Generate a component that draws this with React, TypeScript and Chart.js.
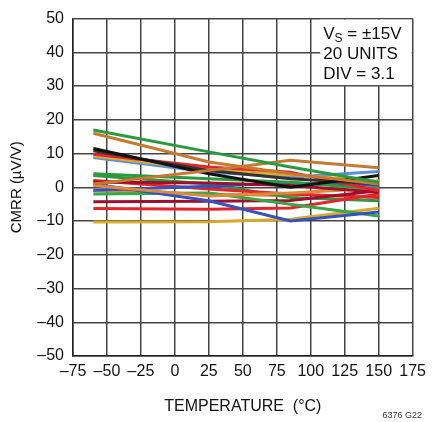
import React, { useEffect, useRef } from "react";
import { Chart, registerables } from "chart.js";

Chart.register(...registerables);

const temps = [-60, 25, 85, 150];

const seriesColors = [
  "#2a9a40", "#c9792f", "#c47a33", "#111111", "#333333",
  "#e8212a", "#dcae2e", "#5a8fd8", "#2a9a40", "#a0102c",
  "#e0893a", "#3552c0", "#3552c0", "#36a848", "#a0102c",
  "#e8212a", "#d9a92c", "#e8212a", "#2a9a40", "#e0893a",
];

const unit01 = [17, 10.5, 6, 1.5];
const unit02 = [16, 7.5, 4, 1];
const unit03 = [1, 5, 8, 5.8];
const unit04 = [11.5, 4, 0, 3.5];
const unit05 = [10.8, 5, 2.5, 1];
const unit06 = [9.8, 6, 4.5, -1];
const unit07 = [9.3, 5.2, 3.7, 1.8];
const unit08 = [8.8, 4.5, 3, 4.7];
const unit09 = [4, 2.5, 1.5, -0.5];
const unit10 = [1.6, 1.3, 0.5, -1.5];
const unit11 = [0.5, -2.6, -1.7, -0.3];
const unit12 = [1, -4, -10, -7.3];
const unit13 = [-0.9, 0.3, 1.3, 0.5];
const unit14 = [-2, -1.7, -5, -8.5];
const unit15 = [-4.3, -4.1, -3.9, -1];
const unit16 = [-6.3, -6.5, -6.1, -2];
const unit17 = [-10.3, -10.2, -9.5, -6.2];
const unit18 = [2, -0.5, -2, -3];
const unit19 = [3.5, 1, -3, -4];
const unit20 = [-1, -2, -2.5, 2];

const units = [
  unit01, unit02, unit03, unit04, unit05, unit06, unit07, unit08, unit09, unit10,
  unit11, unit12, unit13, unit14, unit15, unit16, unit17, unit18, unit19, unit20,
];

const xTicks = [-75, -50, -25, 0, 25, 50, 75, 100, 125, 150, 175];
const yTicks = [-50, -40, -30, -20, -10, 0, 10, 20, 30, 40, 50];

const FONT = "'Liberation Sans Narrow', 'Liberation Sans', Arial, sans-serif";
const fmt = (v: number) => (v < 0 ? "\u2013" + Math.abs(v) : String(v));

const annotationPlugin = {
  id: "notes",
  beforeDatasetsDraw(chart: any) {
    const { ctx, chartArea, scales } = chart;
    const x = scales.x;
    const y = scales.y;
    const left = x.getPixelForValue(107);
    const right = chartArea.right - 1;
    const top = chartArea.top + 1;
    const bottom = y.getPixelForValue(30) - 1;
    ctx.save();
    ctx.fillStyle = "#ffffff";
    ctx.fillRect(left, top, right - left, bottom - top);
    ctx.fillStyle = "#111";
    ctx.textBaseline = "alphabetic";
    ctx.textAlign = "left";
    ctx.font = `17px ${FONT}`;
    const tx = left + 3;
    ctx.fillText("V", tx, top + 19);
    const vw = ctx.measureText("V").width;
    ctx.font = `12px ${FONT}`;
    ctx.fillText("S", tx + vw, top + 22);
    const sw = ctx.measureText("S").width;
    ctx.font = `17px ${FONT}`;
    ctx.fillText(" = \u00b115V", tx + vw + sw, top + 19);
    ctx.fillText("20 UNITS", tx, top + 39);
    ctx.fillText("DIV = 3.1", tx, top + 59);
    ctx.restore();
  },
  afterDraw(chart: any) {
    const { ctx } = chart;
    ctx.save();
    ctx.fillStyle = "#333";
    ctx.font = `9px ${FONT}`;
    ctx.textAlign = "right";
    ctx.fillText("6376 G22", 422, 418);
    ctx.restore();
  },
};

export default function App() {
  const ref = useRef<HTMLCanvasElement | null>(null);
  useEffect(() => {
    if (!ref.current) return;
    const chart = new Chart(ref.current, {
      type: "line",
      data: {
        datasets: units.map((u, i) => ({
          label: `Unit ${i + 1}`,
          data: temps.map((t, j) => ({ x: t, y: u[j] })),
          borderColor: seriesColors[i],
          borderWidth: 3,
          pointRadius: 0,
          tension: 0,
          fill: false,
        })),
      },
      options: {
        responsive: false,
        animation: false,
        layout: { padding: { top: 16, right: 16, left: 0, bottom: 0 } },
        plugins: { legend: { display: false }, tooltip: { enabled: false } },
        scales: {
          x: {
            type: "linear",
            min: -75,
            max: 175,
            afterBuildTicks: (s: any) => {
              s.ticks = xTicks.map((v) => ({ value: v }));
            },
            afterFit: (s: any) => {
              s.height = 66;
            },
            grid: { color: "#444", lineWidth: 1.5, drawTicks: false },
            border: { color: "#222", width: 1.5 },
            ticks: {
              padding: 6,
              color: "#111",
              font: { family: FONT, size: 16 },
              callback: (v: any) => fmt(Number(v)),
              maxRotation: 0,
              autoSkip: false,
            },
            title: {
              display: true,
              text: "TEMPERATURE  (\u00b0C)",
              color: "#111",
              font: { family: FONT, size: 16 },
              padding: { top: 0, bottom: 6 },
            },
          },
          y: {
            type: "linear",
            min: -50,
            max: 50,
            afterBuildTicks: (s: any) => {
              s.ticks = yTicks.map((v) => ({ value: v }));
            },
            afterFit: (s: any) => {
              s.width = 73;
            },
            grid: { color: "#444", lineWidth: 1.5, drawTicks: false },
            border: { color: "#222", width: 1.5 },
            ticks: {
              padding: 9,
              color: "#111",
              font: { family: FONT, size: 16 },
              callback: (v: any) => fmt(Number(v)),
              autoSkip: false,
            },
            title: {
              display: true,
              text: "CMRR (\u00b5V/V)",
              color: "#111",
              font: { family: FONT, size: 15 },
              padding: { top: 8, bottom: 0 },
            },
          },
        },
      },
      plugins: [annotationPlugin],
    } as any);
    return () => chart.destroy();
  }, []);
  return (
    <div style={{ position: "fixed", left: 0, top: 0, width: 432, height: 422, background: "#fff" }}>
      <canvas ref={ref} width={432} height={422} style={{ width: 432, height: 422 }} />
    </div>
  );
}
